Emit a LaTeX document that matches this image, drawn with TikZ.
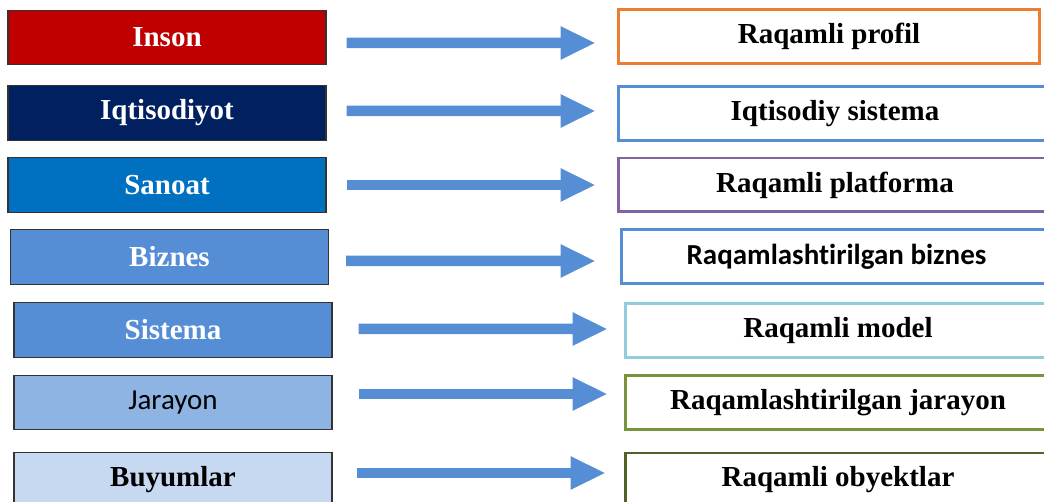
\documentclass[tikz,border=0pt]{standalone}
\usepackage{fontspec}
\setmainfont{Liberation Serif}
\newfontfamily\calibrifont[Ligatures=NoCommon]{Carlito}
\usetikzlibrary{arrows.meta}

\definecolor{insonred}{HTML}{C00000}
\definecolor{iqtnavy}{HTML}{002060}
\definecolor{sanoatblue}{HTML}{0070C0}
\definecolor{midblue}{HTML}{558ED5}
\definecolor{lightblue}{HTML}{8EB4E3}
\definecolor{paleblue}{HTML}{C6D9F1}
\definecolor{profilorange}{HTML}{ED7D31}
\definecolor{platpurple}{HTML}{8064A2}
\definecolor{modelcyan}{HTML}{92CDDC}
\definecolor{jarayongreen}{HTML}{77933C}
\definecolor{obyektgreen}{HTML}{4F6228}

\begin{document}
\begin{tikzpicture}[x=0.02cm,y=-0.02cm,
  src/.style={draw=black!80,line width=0.8pt,minimum width=6.36cm,minimum height=1.09cm,
    inner sep=0pt,font=\fontsize{16.5}{19}\selectfont\bfseries},
  dst/.style={draw,fill=white,line width=1.7pt,minimum width=8.62cm,minimum height=1.08cm,
    inner sep=0pt,font=\fontsize{16.5}{19}\selectfont\bfseries},
  bigarrow/.style={draw=midblue,line width=0.21cm,-{Triangle[length=0.7cm,width=0.62cm]}}]
  \clip (0,0) rectangle (1044,502);

  % Left column
  \node[src,fill=insonred,text=white] (inson) at (167,37.5) {Inson};
  \node[src,fill=iqtnavy,text=white] (iqtisodiyot) at (167,113) {Iqtisodiyot};
  \node[src,fill=sanoatblue,text=white] (sanoat) at (167,185) {Sanoat};
  \node[src,fill=midblue,text=white] (biznes) at (169.5,257) {Biznes};
  \node[src,fill=midblue,text=white] (sistema) at (173,330) {Sistema};
  \node[src,fill=lightblue,font=\calibrifont\fontsize{16.5}{19}\selectfont] (jarayon) at (173,402.5) {Jarayon};
  \node[src,fill=paleblue] (buyumlar) at (173,480) {Buyumlar};

  % Right column
  \node[dst,draw=profilorange,minimum width=8.44cm] (profil) at (829,36.5) {Raqamli profil};
  \node[dst,draw=midblue,minimum width=8.68cm] (sistemaR) at (835,113.5) {Iqtisodiy sistema};
  \node[dst,draw=platpurple,minimum width=8.68cm] (platforma) at (835,185) {Raqamli platforma};
  \node[dst,draw=midblue,font=\calibrifont\fontsize{16.5}{19}\selectfont\bfseries] (biznesR) at (836.5,256.5) {Raqamlashtirilgan biznes};
  \node[dst,draw=modelcyan,minimum width=8.52cm] (model) at (838,330.5) {Raqamli model};
  \node[dst,draw=jarayongreen,minimum width=8.52cm] (jarayonR) at (838,402.5) {Raqamlashtirilgan jarayon};
  \node[dst,draw=obyektgreen,minimum width=8.52cm] (obyekt) at (838,480) {Raqamli obyektlar};

  % Arrows
  \draw[bigarrow] ([xshift=0.4cm,yshift=-0.11cm]inson.east) -- ([xshift=-0.42cm,yshift=-0.13cm]profil.west);
  \draw[bigarrow] ([xshift=0.4cm,yshift=0.04cm]iqtisodiyot.east) -- ([xshift=-0.42cm,yshift=0.05cm]sistemaR.west);
  \draw[bigarrow] ([xshift=0.4cm]sanoat.east) -- ([xshift=-0.42cm]platforma.west);
  \draw[bigarrow] ([xshift=0.34cm,yshift=-0.08cm]biznes.east) -- ([xshift=-0.48cm,yshift=-0.09cm]biznesR.west);
  \draw[bigarrow] ([xshift=0.52cm,yshift=0.02cm]sistema.east) -- ([xshift=-0.32cm,yshift=0.03cm]model.west);
  \draw[bigarrow] ([xshift=0.52cm,yshift=0.17cm]jarayon.east) -- ([xshift=-0.32cm,yshift=0.17cm]jarayonR.west);
  \draw[bigarrow] ([xshift=0.48cm,yshift=0.14cm]buyumlar.east) -- ([xshift=-0.36cm,yshift=0.14cm]obyekt.west);
\end{tikzpicture}
\end{document}
